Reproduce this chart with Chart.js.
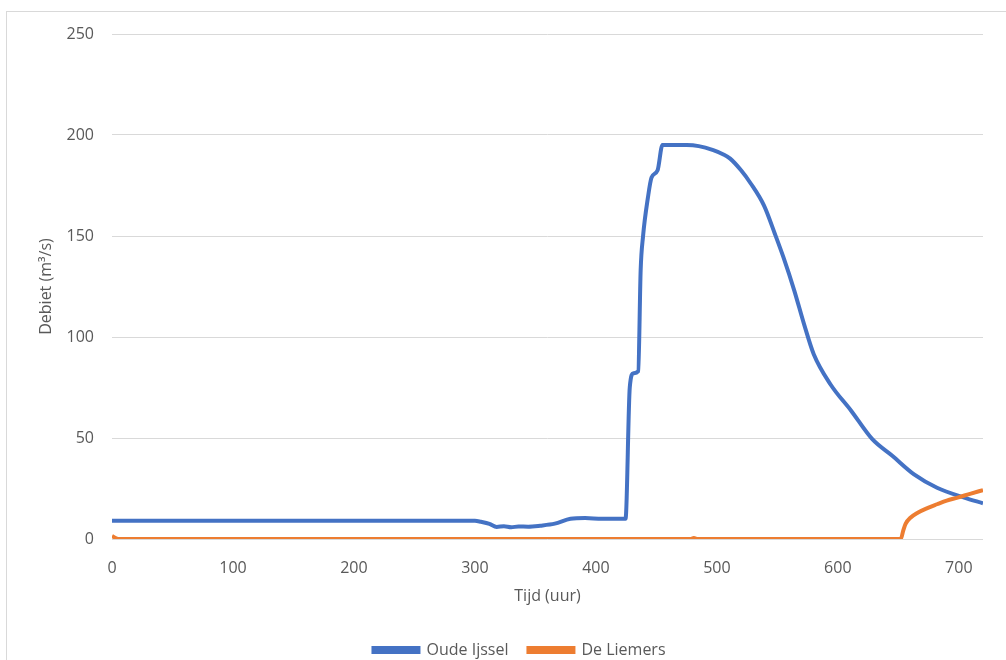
<!DOCTYPE html>
<html>
<head>
<meta charset="utf-8">
<script src="https://cdn.jsdelivr.net/npm/chart.js@4.4.1/dist/chart.umd.min.js"></script>
<style>
  html, body { margin: 0; padding: 0; background: #fff; }
  #wrap { position: relative; width: 1006px; height: 660px; overflow: hidden; }
  #frame { position: absolute; left: 6px; top: 11px; width: 1100px; height: 700px;
           border-top: 1px solid #d9d9d9; border-left: 1px solid #d9d9d9; }
  canvas { position: absolute; left: 0; top: 0; }
</style>
</head>
<body>
<div id="wrap">
  <div id="frame"></div>
  <canvas id="flowChart" width="1006" height="668"></canvas>
</div>
<script>
// Oude IJssel afvoer (uur, m3/s)
const oudeHours = [0, 300, 305, 312, 318, 324, 330, 336, 344, 354, 366, 379, 391, 405, 423, 424.5,
  428, 431, 435, 437, 439, 443, 446, 451, 455, 475, 485, 497, 505, 511, 520, 528, 539, 548, 555,
  564, 572, 580, 594, 611, 628.5, 645, 663, 682, 704.5, 720];
const oudeFlow = [9, 9, 8.5, 7.5, 6, 6.3, 5.8, 6.2, 6.1, 6.6, 7.6, 10, 10.4, 10, 10, 10,
  75, 82, 83, 133, 150, 169, 179, 182.5, 195, 195, 194.5, 192.5, 190.5, 188.3, 182.5, 176, 165, 151, 139.5,
  123, 106.5, 91.6, 76.5, 63.5, 49.4, 41.2, 32, 25.4, 20.5, 17.7];

// De Liemers afvoer (uur, m3/s)
const liemersHours = [0, 3, 6, 478, 481, 484, 652, 654, 656, 660, 666, 674, 682, 690, 699, 710, 720];
const liemersFlow = [1.5, 0.5, 0, 0, 0.5, 0, 0, 4, 7.5, 10.5, 13, 15.3, 17.2, 19, 20.5, 22.5, 24.2];

const yTicks = [0, 50, 100, 150, 200, 250];
const xTicks = [0, 100, 200, 300, 400, 500, 600, 700];

function toPoints(xs, ys) {
  return xs.map((x, i) => ({ x: x, y: ys[i] }));
}

const textColor = '#595959';
const gridColor = '#d9d9d9';
const baseFont = { family: 'Open Sans', size: 16 };

// schuif de legenda iets naar rechts, zoals in Excel
const legendShift = {
  id: 'legendShift',
  afterLayout(chart) {
    if (chart.legend) chart.legend.left += 56;
  }
};

let ctx = document.getElementById('flowChart').getContext('2d');
new Chart(ctx, {
  type: 'line',
  data: {
    datasets: [{
      label: 'Oude Ijssel',
      data: toPoints(oudeHours, oudeFlow),
      borderColor: '#4472C4',
      backgroundColor: '#4472C4',
      borderWidth: 4,
      pointRadius: 0,
      cubicInterpolationMode: 'monotone',
      order: 2
    }, {
      label: 'De Liemers',
      data: toPoints(liemersHours, liemersFlow),
      borderColor: '#ED7D31',
      backgroundColor: '#ED7D31',
      borderWidth: 4,
      pointRadius: 0,
      cubicInterpolationMode: 'monotone',
      order: 1
    }]
  },
  plugins: [legendShift],
  options: {
    responsive: false,
    animation: false,
    layout: { padding: { top: 34, right: 23, left: 0, bottom: 0 } },
    plugins: {
      tooltip: { enabled: false },
      legend: {
        position: 'bottom',
        labels: {
          boxWidth: 45,
          boxHeight: 4,
          padding: 20,
          color: textColor,
          font: baseFont,
          sort: (a, b) => a.datasetIndex - b.datasetIndex
        }
      }
    },
    scales: {
      x: {
        type: 'linear',
        min: 0,
        max: 720,
        afterBuildTicks: scale => { scale.ticks = xTicks.map(v => ({ value: v })); },
        afterFit: scale => { scale.height = 83; },
        grid: { display: false },
        border: { display: false },
        ticks: { color: textColor, font: baseFont, padding: 12, maxRotation: 0 },
        title: { display: true, text: 'Tijd (uur)', color: textColor, font: baseFont, padding: { top: 0, bottom: 16 } }
      },
      y: {
        min: 0,
        max: 250,
        afterBuildTicks: scale => { scale.ticks = yTicks.map(v => ({ value: v })); },
        afterFit: scale => { scale.width = 112; },
        grid: { color: gridColor, drawTicks: false },
        border: { display: false },
        ticks: { color: textColor, font: baseFont, padding: 18 },
        title: { display: true, text: 'Debiet (m³/s)', color: textColor, font: baseFont, padding: { top: 37 } }
      }
    }
  }
});
</script>
</body>
</html>
